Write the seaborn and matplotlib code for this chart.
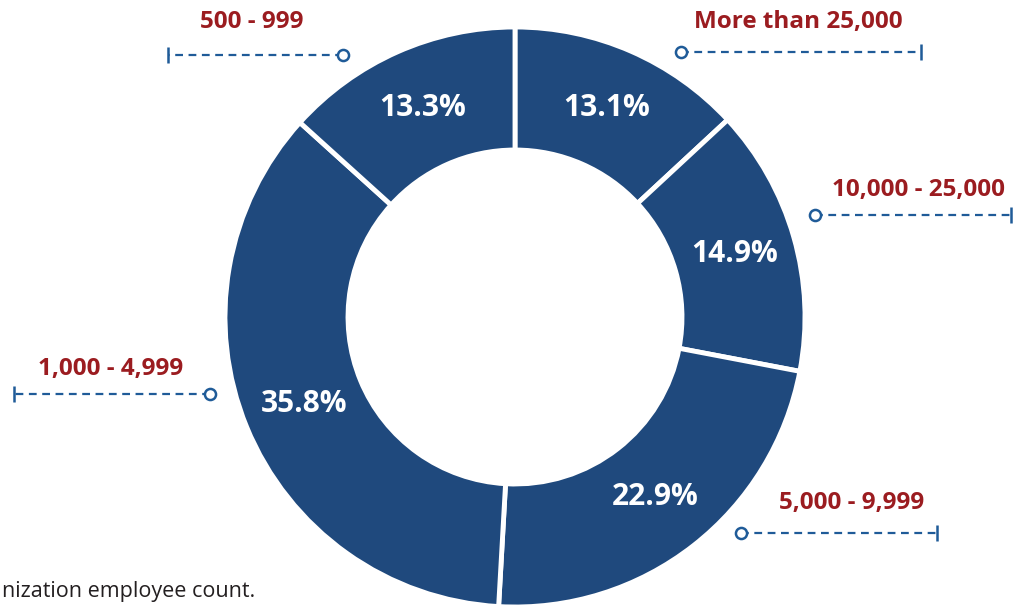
import numpy as np
import seaborn as sns
import matplotlib.pyplot as plt

# employee-count share
categories = ["More than 25,000", "10,000 - 25,000", "5,000 - 9,999", "1,000 - 4,999", "500 - 999"]
shares = [13.1, 14.9, 22.9, 35.8, 13.3]
footnote = "nization employee count."

sns.set_theme(style="white")
plt.rcParams['font.family'] = ['Open Sans', 'DejaVu Sans']

ring_color = "#1f497d"
label_color = "#9b1c20"
lead_color = "#1f5b98"

W, H = 1026, 605
fig = plt.figure(figsize=(W / 100, H / 100), dpi=100)
ax = fig.add_axes([0, 0, 1, 1])

cx, cy, r_out, r_in = 515, H - 317, 290, 167
wedges, texts, autotexts = ax.pie(
    shares, colors=[ring_color] * len(shares), startangle=90, counterclock=False,
    center=(cx, cy), radius=r_out, autopct='%.1f%%',
    pctdistance=(r_out + r_in) / 2 / r_out,
    wedgeprops=dict(width=r_out - r_in, edgecolor="white", linewidth=3.5),
    textprops=dict(color="white", fontsize=21.5, fontweight="bold"))

# leader lines: (text x, text y, circle end, tick end, line y), pixel coords
leaders = [(798, 22, 681, 921, 52),
           (918, 190, 815, 1011, 215),
           (852, 503, 741, 937, 533),
           (111, 369, 210, 14, 394),
           (252, 22, 343, 168, 55)]
for name, (tx, ty, x0, x1, ly) in zip(categories, leaders):
    ax.text(tx, H - ty, name, ha="center", va="center", color=label_color,
            fontsize=17.5, fontweight="bold")
    ax.plot([x0, x1], [H - ly, H - ly], color=lead_color, lw=1.6, ls=(0, (3.5, 2.5)))
    ax.plot([x0], [H - ly], marker="o", ms=8, mfc="white", mec=lead_color, mew=1.8)
    ax.plot([x1], [H - ly], marker="|", ms=11, mec=lead_color, mew=1.8)

ax.text(255, H - 591, footnote, ha="right", va="center", color="#231f20", fontsize=15.5)

ax.set_xlim(0, W)
ax.set_ylim(0, H)
ax.set_aspect("auto")
ax.axis("off")

plt.savefig("out.png", dpi=100)
